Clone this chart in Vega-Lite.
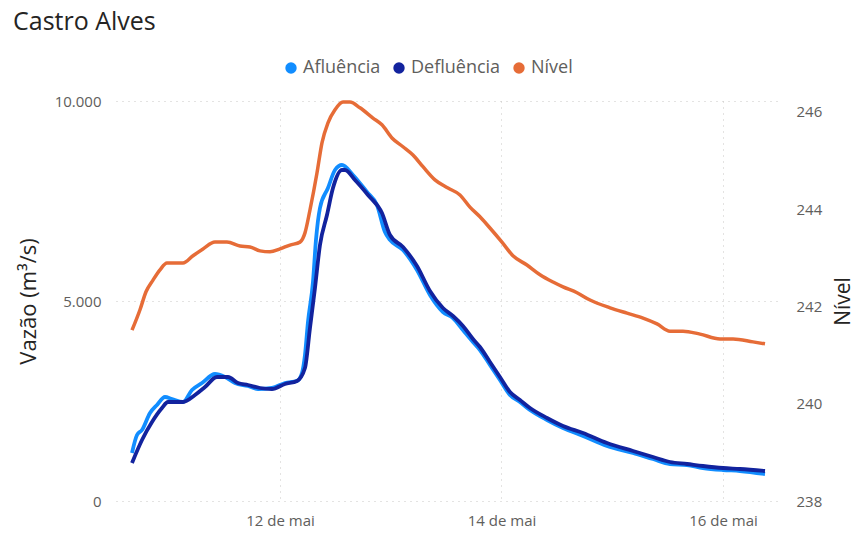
{
  "$schema": "https://vega.github.io/schema/vega-lite/v6.json",
  "width": 664,
  "height": 400,
  "autosize": "none",
  "padding": {"left": 116, "top": 101, "right": 76, "bottom": 41},
  "background": "white",
  "title": {"text": "Castro Alves", "anchor": "start", "frame": "group", "dx": -103, "dy": -24, "offset": 0, "font": "Open Sans", "fontSize": 25, "fontWeight": "normal", "color": "#252423"},
  "config": {
    "font": "Open Sans",
    "view": {"stroke": null},
    "axis": {"domain": false, "ticks": false, "labelFont": "Open Sans", "labelFontSize": 15, "labelColor": "#605E5C", "titleFont": "Open Sans", "titleFontSize": 22, "titleFontWeight": "normal", "titleColor": "#252423", "gridColor": "#C8C6C4", "gridDash": [1, 5], "gridWidth": 1}
  },
  "data": {"values": [
    {"t": "2024-05-10T15:56", "s": "Afluência", "v": 1200},
    {"t": "2024-05-10T17:01", "s": "Afluência", "v": 1650},
    {"t": "2024-05-10T18:06", "s": "Afluência", "v": 1775},
    {"t": "2024-05-10T19:50", "s": "Afluência", "v": 2200},
    {"t": "2024-05-10T21:21", "s": "Afluência", "v": 2400},
    {"t": "2024-05-10T23:05", "s": "Afluência", "v": 2600},
    {"t": "2024-05-11T00:36", "s": "Afluência", "v": 2550},
    {"t": "2024-05-11T02:59", "s": "Afluência", "v": 2475},
    {"t": "2024-05-11T04:56", "s": "Afluência", "v": 2775},
    {"t": "2024-05-11T07:06", "s": "Afluência", "v": 2950},
    {"t": "2024-05-11T09:55", "s": "Afluência", "v": 3175},
    {"t": "2024-05-11T12:05", "s": "Afluência", "v": 3100},
    {"t": "2024-05-11T14:15", "s": "Afluência", "v": 2950},
    {"t": "2024-05-11T17:04", "s": "Afluência", "v": 2875},
    {"t": "2024-05-11T19:14", "s": "Afluência", "v": 2800},
    {"t": "2024-05-11T22:16", "s": "Afluência", "v": 2825},
    {"t": "2024-05-12T01:05", "s": "Afluência", "v": 2950},
    {"t": "2024-05-12T03:41", "s": "Afluência", "v": 3000},
    {"t": "2024-05-12T04:46", "s": "Afluência", "v": 3200},
    {"t": "2024-05-12T05:25", "s": "Afluência", "v": 3650},
    {"t": "2024-05-12T06:04", "s": "Afluência", "v": 4475},
    {"t": "2024-05-12T07:09", "s": "Afluência", "v": 5475},
    {"t": "2024-05-12T07:48", "s": "Afluência", "v": 6525},
    {"t": "2024-05-12T08:40", "s": "Afluência", "v": 7325},
    {"t": "2024-05-12T10:24", "s": "Afluência", "v": 7825},
    {"t": "2024-05-12T11:55", "s": "Afluência", "v": 8275},
    {"t": "2024-05-12T13:26", "s": "Afluência", "v": 8400},
    {"t": "2024-05-12T15:49", "s": "Afluência", "v": 8150},
    {"t": "2024-05-12T18:51", "s": "Afluência", "v": 7725},
    {"t": "2024-05-12T21:01", "s": "Afluência", "v": 7400},
    {"t": "2024-05-12T22:45", "s": "Afluência", "v": 6725},
    {"t": "2024-05-12T23:50", "s": "Afluência", "v": 6525},
    {"t": "2024-05-13T02:39", "s": "Afluência", "v": 6275},
    {"t": "2024-05-13T05:41", "s": "Afluência", "v": 5775},
    {"t": "2024-05-13T08:30", "s": "Afluência", "v": 5150},
    {"t": "2024-05-13T11:19", "s": "Afluência", "v": 4725},
    {"t": "2024-05-13T13:29", "s": "Afluência", "v": 4575},
    {"t": "2024-05-13T15:39", "s": "Afluência", "v": 4275},
    {"t": "2024-05-13T17:49", "s": "Afluência", "v": 3975},
    {"t": "2024-05-13T19:20", "s": "Afluência", "v": 3775},
    {"t": "2024-05-13T21:30", "s": "Afluência", "v": 3400},
    {"t": "2024-05-13T23:40", "s": "Afluência", "v": 3025},
    {"t": "2024-05-14T01:50", "s": "Afluência", "v": 2650},
    {"t": "2024-05-14T04:00", "s": "Afluência", "v": 2475},
    {"t": "2024-05-14T06:10", "s": "Afluência", "v": 2275},
    {"t": "2024-05-14T09:52", "s": "Afluência", "v": 2025},
    {"t": "2024-05-14T13:20", "s": "Afluência", "v": 1825},
    {"t": "2024-05-14T17:40", "s": "Afluência", "v": 1625},
    {"t": "2024-05-14T22:52", "s": "Afluência", "v": 1375},
    {"t": "2024-05-15T04:30", "s": "Afluência", "v": 1200},
    {"t": "2024-05-15T08:50", "s": "Afluência", "v": 1050},
    {"t": "2024-05-15T12:31", "s": "Afluência", "v": 925},
    {"t": "2024-05-15T16:12", "s": "Afluência", "v": 900},
    {"t": "2024-05-15T19:40", "s": "Afluência", "v": 825},
    {"t": "2024-05-16T00:00", "s": "Afluência", "v": 775},
    {"t": "2024-05-16T03:41", "s": "Afluência", "v": 750},
    {"t": "2024-05-16T09:06", "s": "Afluência", "v": 675},
    {"t": "2024-05-10T15:56", "s": "Defluência", "v": 950},
    {"t": "2024-05-10T18:06", "s": "Defluência", "v": 1525},
    {"t": "2024-05-10T20:16", "s": "Defluência", "v": 1975},
    {"t": "2024-05-10T22:26", "s": "Defluência", "v": 2325},
    {"t": "2024-05-10T23:44", "s": "Defluência", "v": 2475},
    {"t": "2024-05-11T02:59", "s": "Defluência", "v": 2475},
    {"t": "2024-05-11T05:35", "s": "Defluência", "v": 2650},
    {"t": "2024-05-11T07:45", "s": "Defluência", "v": 2850},
    {"t": "2024-05-11T10:21", "s": "Defluência", "v": 3100},
    {"t": "2024-05-11T12:44", "s": "Defluência", "v": 3100},
    {"t": "2024-05-11T14:54", "s": "Defluência", "v": 2950},
    {"t": "2024-05-11T17:04", "s": "Defluência", "v": 2900},
    {"t": "2024-05-11T19:40", "s": "Defluência", "v": 2825},
    {"t": "2024-05-11T22:16", "s": "Defluência", "v": 2800},
    {"t": "2024-05-12T01:05", "s": "Defluência", "v": 2925},
    {"t": "2024-05-12T03:41", "s": "Defluência", "v": 3000},
    {"t": "2024-05-12T05:25", "s": "Defluência", "v": 3325},
    {"t": "2024-05-12T06:30", "s": "Defluência", "v": 4325},
    {"t": "2024-05-12T07:35", "s": "Defluência", "v": 5325},
    {"t": "2024-05-12T08:40", "s": "Defluência", "v": 6400},
    {"t": "2024-05-12T10:11", "s": "Defluência", "v": 7150},
    {"t": "2024-05-12T11:29", "s": "Defluência", "v": 7825},
    {"t": "2024-05-12T13:26", "s": "Defluência", "v": 8275},
    {"t": "2024-05-12T14:05", "s": "Defluência", "v": 8275},
    {"t": "2024-05-12T16:15", "s": "Defluência", "v": 8025},
    {"t": "2024-05-12T19:04", "s": "Defluência", "v": 7650},
    {"t": "2024-05-12T22:06", "s": "Defluência", "v": 7200},
    {"t": "2024-05-12T23:50", "s": "Defluência", "v": 6650},
    {"t": "2024-05-13T02:39", "s": "Defluência", "v": 6350},
    {"t": "2024-05-13T05:41", "s": "Defluência", "v": 5875},
    {"t": "2024-05-13T08:30", "s": "Defluência", "v": 5250},
    {"t": "2024-05-13T11:19", "s": "Defluência", "v": 4825},
    {"t": "2024-05-13T13:29", "s": "Defluência", "v": 4625},
    {"t": "2024-05-13T15:39", "s": "Defluência", "v": 4375},
    {"t": "2024-05-13T17:49", "s": "Defluência", "v": 4050},
    {"t": "2024-05-13T19:20", "s": "Defluência", "v": 3850},
    {"t": "2024-05-13T21:30", "s": "Defluência", "v": 3475},
    {"t": "2024-05-13T23:40", "s": "Defluência", "v": 3100},
    {"t": "2024-05-14T01:50", "s": "Defluência", "v": 2725},
    {"t": "2024-05-14T04:00", "s": "Defluência", "v": 2525},
    {"t": "2024-05-14T06:10", "s": "Defluência", "v": 2325},
    {"t": "2024-05-14T09:52", "s": "Defluência", "v": 2075},
    {"t": "2024-05-14T13:20", "s": "Defluência", "v": 1875},
    {"t": "2024-05-14T17:40", "s": "Defluência", "v": 1700},
    {"t": "2024-05-14T22:52", "s": "Defluência", "v": 1450},
    {"t": "2024-05-15T04:30", "s": "Defluência", "v": 1250},
    {"t": "2024-05-15T08:50", "s": "Defluência", "v": 1100},
    {"t": "2024-05-15T12:31", "s": "Defluência", "v": 975},
    {"t": "2024-05-15T16:12", "s": "Defluência", "v": 925},
    {"t": "2024-05-15T19:40", "s": "Defluência", "v": 875},
    {"t": "2024-05-16T00:00", "s": "Defluência", "v": 825},
    {"t": "2024-05-16T03:41", "s": "Defluência", "v": 800},
    {"t": "2024-05-16T09:06", "s": "Defluência", "v": 750},
    {"t": "2024-05-10T15:56", "s": "Nível", "v": 241.51},
    {"t": "2024-05-10T17:40", "s": "Nível", "v": 241.93},
    {"t": "2024-05-10T18:58", "s": "Nível", "v": 242.30},
    {"t": "2024-05-10T20:29", "s": "Nível", "v": 242.54},
    {"t": "2024-05-10T22:00", "s": "Nível", "v": 242.75},
    {"t": "2024-05-10T23:31", "s": "Nível", "v": 242.89},
    {"t": "2024-05-11T01:15", "s": "Nível", "v": 242.89},
    {"t": "2024-05-11T02:59", "s": "Nível", "v": 242.89},
    {"t": "2024-05-11T05:09", "s": "Nível", "v": 243.04},
    {"t": "2024-05-11T07:19", "s": "Nível", "v": 243.18},
    {"t": "2024-05-11T09:55", "s": "Nível", "v": 243.32},
    {"t": "2024-05-11T12:31", "s": "Nível", "v": 243.32},
    {"t": "2024-05-11T15:20", "s": "Nível", "v": 243.24},
    {"t": "2024-05-11T17:30", "s": "Nível", "v": 243.22},
    {"t": "2024-05-11T19:40", "s": "Nível", "v": 243.14},
    {"t": "2024-05-11T21:50", "s": "Nível", "v": 243.12},
    {"t": "2024-05-12T00:00", "s": "Nível", "v": 243.18},
    {"t": "2024-05-12T02:10", "s": "Nível", "v": 243.26},
    {"t": "2024-05-12T04:20", "s": "Nível", "v": 243.32},
    {"t": "2024-05-12T05:25", "s": "Nível", "v": 243.51},
    {"t": "2024-05-12T06:30", "s": "Nível", "v": 243.98},
    {"t": "2024-05-12T08:01", "s": "Nível", "v": 244.74},
    {"t": "2024-05-12T09:06", "s": "Nível", "v": 245.36},
    {"t": "2024-05-12T10:24", "s": "Nível", "v": 245.77},
    {"t": "2024-05-12T11:55", "s": "Nível", "v": 246.04},
    {"t": "2024-05-12T13:39", "s": "Nível", "v": 246.20},
    {"t": "2024-05-12T15:10", "s": "Nível", "v": 246.20},
    {"t": "2024-05-12T17:20", "s": "Nível", "v": 246.08},
    {"t": "2024-05-12T20:09", "s": "Nível", "v": 245.87},
    {"t": "2024-05-12T22:06", "s": "Nível", "v": 245.73},
    {"t": "2024-05-13T00:16", "s": "Nível", "v": 245.46},
    {"t": "2024-05-13T02:39", "s": "Nível", "v": 245.28},
    {"t": "2024-05-13T04:49", "s": "Nível", "v": 245.11},
    {"t": "2024-05-13T06:59", "s": "Nível", "v": 244.87},
    {"t": "2024-05-13T09:35", "s": "Nível", "v": 244.60},
    {"t": "2024-05-13T12:24", "s": "Nível", "v": 244.43},
    {"t": "2024-05-13T15:00", "s": "Nível", "v": 244.29},
    {"t": "2024-05-13T17:10", "s": "Nível", "v": 244.04},
    {"t": "2024-05-13T19:20", "s": "Nível", "v": 243.84},
    {"t": "2024-05-13T21:30", "s": "Nível", "v": 243.61},
    {"t": "2024-05-14T00:06", "s": "Nível", "v": 243.32},
    {"t": "2024-05-14T02:29", "s": "Nível", "v": 243.04},
    {"t": "2024-05-14T05:31", "s": "Nível", "v": 242.85},
    {"t": "2024-05-14T08:21", "s": "Nível", "v": 242.65},
    {"t": "2024-05-14T11:10", "s": "Nível", "v": 242.50},
    {"t": "2024-05-14T13:20", "s": "Nível", "v": 242.40},
    {"t": "2024-05-14T16:22", "s": "Nível", "v": 242.28},
    {"t": "2024-05-14T19:11", "s": "Nível", "v": 242.13},
    {"t": "2024-05-14T23:31", "s": "Nível", "v": 241.97},
    {"t": "2024-05-15T03:12", "s": "Nível", "v": 241.86},
    {"t": "2024-05-15T06:40", "s": "Nível", "v": 241.76},
    {"t": "2024-05-15T09:42", "s": "Nível", "v": 241.64},
    {"t": "2024-05-15T12:31", "s": "Nível", "v": 241.49},
    {"t": "2024-05-15T15:20", "s": "Nível", "v": 241.49},
    {"t": "2024-05-15T19:01", "s": "Nível", "v": 241.43},
    {"t": "2024-05-15T23:21", "s": "Nível", "v": 241.33},
    {"t": "2024-05-16T02:10", "s": "Nível", "v": 241.33},
    {"t": "2024-05-16T06:30", "s": "Nível", "v": 241.27},
    {"t": "2024-05-16T09:06", "s": "Nível", "v": 241.23}
  ]},
  "encoding": {
    "x": {
      "field": "t", "type": "temporal",
      "scale": {"domain": [{"year": 2024, "month": 5, "date": 10, "hours": 12, "minutes": 28}, {"year": 2024, "month": 5, "date": 16, "hours": 12, "minutes": 21}]},
      "axis": {"title": null, "values": [{"year": 2024, "month": 5, "date": 12}, {"year": 2024, "month": 5, "date": 14}, {"year": 2024, "month": 5, "date": 16}], "format": "%d de mai", "grid": true, "labelPadding": 12}
    },
    "color": {
      "field": "s", "type": "nominal",
      "scale": {"domain": ["Afluência", "Defluência", "Nível"], "range": ["#118DFF", "#12239E", "#E66C37"]},
      "legend": {
        "title": null, "orient": "none", "legendX": 166, "legendY": -42, "direction": "horizontal",
        "symbolType": "circle", "symbolSize": 130, "symbolStrokeWidth": 0,
        "labelFont": "Open Sans", "labelFontSize": 18, "labelColor": "#605E5C", "labelOffset": 3, "columnPadding": 9,
        "encode": {"symbols": {"update": {"fill": {"scale": "color", "field": "value"}, "strokeWidth": {"value": 0}}}}
      }
    }
  },
  "layer": [
    {
      "transform": [{"filter": "datum.s !== 'Nível'"}],
      "mark": {"type": "line", "strokeWidth": 3.8, "interpolate": "monotone"},
      "encoding": {
        "y": {"field": "v", "type": "quantitative", "scale": {"domain": [0, 10000]},
          "axis": {"title": "Vazão (m³/s)", "values": [0, 5000, 10000], "labelExpr": "replace(format(datum.value, ','), ',', '.')", "grid": true, "labelPadding": 15, "titlePadding": 14}}
      }
    },
    {
      "transform": [{"filter": "datum.s === 'Nível'"}],
      "mark": {"type": "line", "strokeWidth": 3.5, "interpolate": "monotone"},
      "encoding": {
        "y": {"field": "v", "type": "quantitative", "scale": {"domain": [238, 246.22], "zero": false},
          "axis": {"orient": "right", "title": "Nível", "titleAngle": -90, "titleBaseline": "top", "titleFontSize": 21, "values": [238, 240, 242, 244, 246], "grid": false, "labelPadding": 16, "titlePadding": 11}}
      }
    }
  ],
  "resolve": {"scale": {"y": "independent"}}
}
